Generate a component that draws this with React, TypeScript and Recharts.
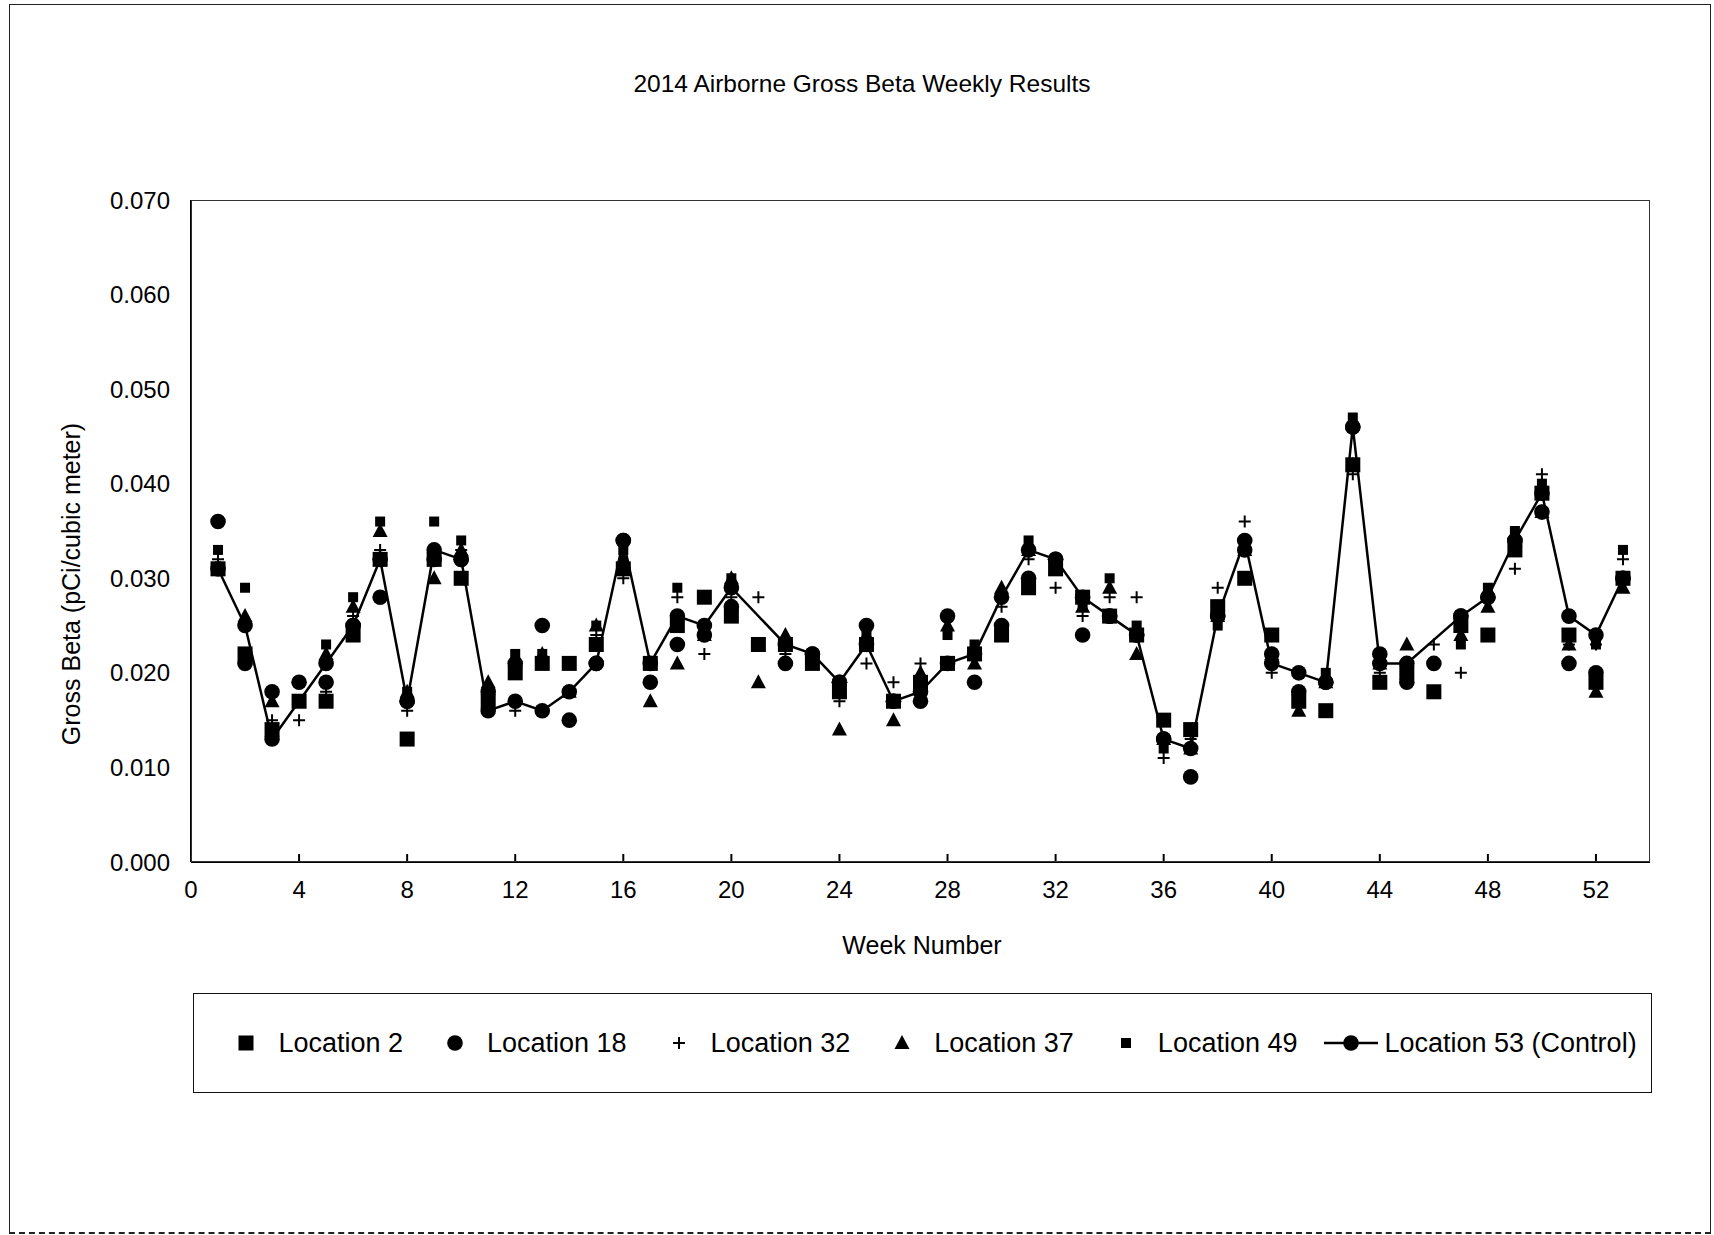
import React from "react";
import { ComposedChart, Line, XAxis, YAxis } from "recharts";

const weeks = Array.from({ length: 53 }, (_, i) => i + 1);

const location2 = [
  0.031, 0.022, 0.014, 0.017, 0.017, 0.024, 0.032, 0.013, 0.032, 0.030,
  0.017, 0.020, 0.021, 0.021, 0.023, 0.031, 0.021, 0.025, 0.028, 0.026,
  0.023, 0.023, 0.021, 0.018, 0.023, 0.017, 0.019, 0.021, 0.022, 0.024,
  0.029, 0.031, 0.028, 0.026, 0.024, 0.015, 0.014, 0.027, 0.030, 0.024,
  0.017, 0.016, 0.042, 0.019, 0.020, 0.018, 0.025, 0.024, 0.033, 0.039,
  0.024, 0.019, 0.030,
];

const location18 = [
  0.036, 0.021, 0.018, 0.019, 0.019, 0.025, 0.028, 0.017, 0.032, 0.032,
  0.018, 0.021, 0.025, 0.015, 0.021, 0.034, 0.019, 0.023, 0.024, 0.027,
  null, 0.021, 0.022, 0.019, 0.025, 0.017, 0.017, 0.026, 0.019, 0.025,
  0.030, 0.032, 0.024, 0.026, 0.024, 0.013, 0.009, 0.026, 0.033, 0.022,
  0.018, 0.019, 0.046, 0.022, 0.019, 0.021, 0.026, 0.028, 0.034, 0.037,
  0.021, 0.020, 0.030,
];

const location32 = [
  0.032, 0.025, 0.015, 0.015, 0.018, 0.026, 0.033, 0.016, 0.033, 0.033,
  0.017, 0.016, 0.021, 0.018, 0.024, 0.030, 0.021, 0.028, 0.022, 0.028,
  0.028, 0.022, 0.022, 0.017, 0.021, 0.019, 0.021, 0.021, 0.022, 0.027,
  0.032, 0.029, 0.026, 0.028, 0.028, 0.011, 0.013, 0.029, 0.036, 0.020,
  0.017, 0.019, 0.041, 0.020, 0.021, 0.023, 0.020, 0.028, 0.031, 0.041,
  0.023, 0.023, 0.032,
];

const location37 = [
  0.031, 0.026, 0.017, null, 0.022, 0.027, 0.035, 0.018, 0.030, 0.033,
  0.019, 0.021, 0.022, 0.018, 0.025, 0.032, 0.017, 0.021, 0.024, 0.030,
  0.019, 0.024, 0.021, 0.014, 0.024, 0.015, 0.020, 0.025, 0.021, 0.029,
  0.033, 0.031, 0.027, 0.029, 0.022, 0.013, 0.012, 0.026, 0.033, 0.022,
  0.016, 0.019, 0.042, 0.021, 0.023, null, 0.024, 0.027, 0.034, 0.037,
  0.023, 0.018, 0.029,
];

const location49 = [
  0.033, 0.029, 0.014, null, 0.023, 0.028, 0.036, 0.018, 0.036, 0.034,
  0.018, 0.022, 0.022, null, 0.025, 0.033, 0.021, 0.029, 0.028, 0.030,
  null, 0.021, 0.022, 0.019, 0.024, null, 0.018, 0.024, 0.023, 0.025,
  0.034, 0.031, 0.027, 0.030, 0.025, 0.012, 0.014, 0.025, 0.034, 0.024,
  0.018, 0.020, 0.047, 0.021, 0.020, null, 0.023, 0.029, 0.035, 0.040,
  0.024, 0.023, 0.033,
];

const location53 = [
  0.031, 0.025, 0.013, null, 0.021, 0.025, 0.032, 0.017, 0.033, 0.032,
  0.016, 0.017, 0.016, 0.018, 0.021, 0.034, 0.021, 0.026, 0.025, 0.029,
  null, 0.023, 0.022, 0.019, 0.023, 0.017, 0.018, 0.021, 0.022, 0.028,
  0.033, 0.032, 0.028, 0.026, 0.024, 0.013, 0.012, 0.026, 0.034, 0.021,
  0.020, 0.019, 0.046, 0.021, 0.021, null, 0.026, 0.028, 0.034, 0.039,
  0.026, 0.024, 0.030,
];

const xTicks = [0, 4, 8, 12, 16, 20, 24, 28, 32, 36, 40, 44, 48, 52];
const yTicks = [0, 0.01, 0.02, 0.03, 0.04, 0.05, 0.06, 0.07];

const FONT = "'Liberation Sans', Arial, sans-serif";

const data = weeks.map((week, i) => ({
  week,
  l2: location2[i],
  l18: location18[i],
  l32: location32[i],
  l37: location37[i],
  l49: location49[i],
  l53: location53[i],
}));

type Shape = "square" | "circle" | "plus" | "triangle" | "small";

function Marker({ shape, cx, cy }: { shape: Shape; cx: number; cy: number }) {
  switch (shape) {
    case "square":
      return <rect x={cx - 7.5} y={cy - 7.5} width={15} height={15} fill="#000" />;
    case "circle":
      return <circle cx={cx} cy={cy} r={7.8} fill="#000" />;
    case "plus":
      return (
        <path
          d={`M${cx - 6},${cy}H${cx + 6}M${cx},${cy - 6}V${cy + 6}`}
          stroke="#000"
          strokeWidth={2}
        />
      );
    case "triangle":
      return (
        <path
          d={`M${cx},${cy - 8}L${cx + 7.5},${cy + 6}L${cx - 7.5},${cy + 6}Z`}
          fill="#000"
        />
      );
    default:
      return <rect x={cx - 5} y={cy - 5} width={10} height={10} fill="#000" />;
  }
}

const dotFor = (shape: Shape) => (props: any) => {
  const { cx, cy, value, index } = props;
  if (value == null || cx == null || cy == null || isNaN(cy)) {
    return <g key={`e-${shape}-${index}`} />;
  }
  return (
    <g key={`d-${shape}-${index}`}>
      <Marker shape={shape} cx={cx} cy={cy} />
    </g>
  );
};

const legendItems: { label: string; shape: Shape; line?: boolean }[] = [
  { label: "Location 2", shape: "square" },
  { label: "Location 18", shape: "circle" },
  { label: "Location 32", shape: "plus" },
  { label: "Location 37", shape: "triangle" },
  { label: "Location 49", shape: "small" },
  { label: "Location 53 (Control)", shape: "circle", line: true },
];

function LegendBox() {
  return (
    <div
      style={{
        position: "absolute",
        left: 193,
        top: 993,
        width: 1457,
        height: 98,
        border: "1.5px solid #111",
        boxSizing: "content-box",
        display: "flex",
        alignItems: "center",
        justifyContent: "center",
        paddingLeft: 0,
        fontFamily: FONT,
        fontSize: 27,
        color: "#000",
      }}
    >
      <div style={{ display: "flex", alignItems: "center", marginLeft: 26 }}>
        {legendItems.map((item, i) => (
          <div
            key={item.label}
            style={{
              display: "flex",
              alignItems: "center",
              marginLeft: i === 0 ? 0 : item.line ? 27 : 40,
            }}
          >
            <svg
              width={item.line ? 54 : 24}
              height={24}
              style={{ marginRight: item.line ? 6 : 20 }}
            >
              {item.line && (
                <line x1={0} y1={12} x2={54} y2={12} stroke="#000" strokeWidth={2.5} />
              )}
              <Marker shape={item.shape} cx={item.line ? 27 : 12} cy={12} />
            </svg>
            <span style={{ whiteSpace: "nowrap" }}>{item.label}</span>
          </div>
        ))}
      </div>
    </div>
  );
}

const textStyle: React.CSSProperties = {
  position: "absolute",
  transform: "translate(-50%, -50%)",
  whiteSpace: "nowrap",
  fontFamily: FONT,
  color: "#000",
  lineHeight: 1,
};

export default function App() {
  return (
    <div
      style={{
        position: "absolute",
        left: 0,
        top: 0,
        width: 1714,
        height: 1235,
        background: "#fff",
        overflow: "hidden",
      }}
    >
      <div
        style={{
          position: "absolute",
          left: 9,
          top: 4,
          width: 1700,
          height: 1227,
          borderLeft: "1.5px solid #222",
          borderTop: "1.5px solid #222",
          borderRight: "1.5px solid #222",
          borderBottom: "2px dashed #222",
        }}
      />
      <div style={{ ...textStyle, left: 862, top: 84, fontSize: 24.5 }}>
        2014 Airborne Gross Beta Weekly Results
      </div>
      <div style={{ ...textStyle, left: 922, top: 945, fontSize: 25 }}>Week Number</div>
      <div
        style={{
          ...textStyle,
          left: 71,
          top: 584,
          fontSize: 25,
          transform: "translate(-50%, -50%) rotate(-90deg)",
        }}
      >
        Gross Beta (pCi/cubic meter)
      </div>

      <div style={{ position: "absolute", left: 0, top: 0 }}>
        <ComposedChart
          width={1714}
          height={1235}
          data={data}
          margin={{ top: 200, right: 64, bottom: 343, left: 91 }}
        >
          <XAxis
            type="number"
            dataKey="week"
            domain={[0, 54]}
            ticks={xTicks}
            allowDataOverflow
            height={30}
            stroke="#000"
            strokeWidth={2}
            tickSize={-8}
            tickMargin={27}
            tick={{ fill: "#000", fontSize: 24, fontFamily: FONT }}
          />
          <YAxis
            type="number"
            domain={[0, 0.07]}
            ticks={yTicks}
            width={100}
            stroke="#000"
            strokeWidth={2}
            tickLine={false}
            tickSize={0}
            tickMargin={21}
            tickFormatter={(v: number) => v.toFixed(3)}
            tick={{ fill: "#000", fontSize: 24, fontFamily: FONT }}
          />
          <Line dataKey="l2" stroke="none" dot={dotFor("square")} activeDot={false} isAnimationActive={false} />
          <Line dataKey="l18" stroke="none" dot={dotFor("circle")} activeDot={false} isAnimationActive={false} />
          <Line dataKey="l32" stroke="none" dot={dotFor("plus")} activeDot={false} isAnimationActive={false} />
          <Line dataKey="l37" stroke="none" dot={dotFor("triangle")} activeDot={false} isAnimationActive={false} />
          <Line dataKey="l49" stroke="none" dot={dotFor("small")} activeDot={false} isAnimationActive={false} />
          <Line
            dataKey="l53"
            stroke="#000"
            strokeWidth={2.5}
            connectNulls
            dot={dotFor("circle")}
            activeDot={false}
            isAnimationActive={false}
          />
        </ComposedChart>
      </div>

      <div
        style={{
          position: "absolute",
          left: 191,
          top: 200,
          width: 1459,
          height: 662,
          border: "1.5px solid #333",
          boxSizing: "border-box",
          pointerEvents: "none",
        }}
      />
      <LegendBox />
    </div>
  );
}
